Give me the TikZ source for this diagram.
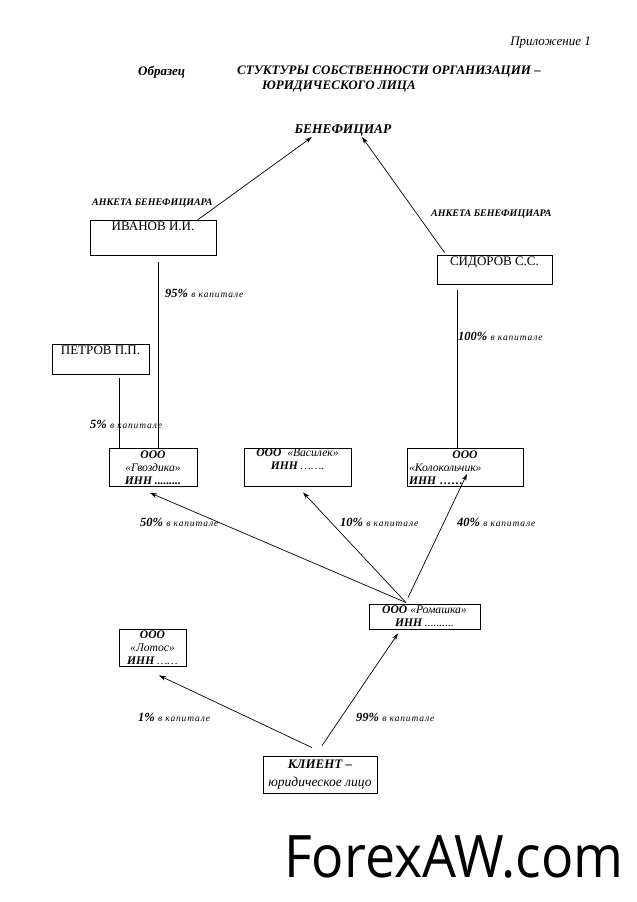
\documentclass[tikz,border=0pt]{standalone}
\usepackage{fontspec}
\usepackage{graphicx}
\setmainfont{Liberation Serif}
\newfontfamily\wmfont{Open Sans}
\newfontfamily\kapfont[LetterSpace=9]{Liberation Serif}
\usetikzlibrary{arrows.meta}
\begin{document}
\begin{tikzpicture}[x=1pt,y=-1pt,
  box/.style={draw,line width=0.8pt,inner sep=0pt},
  tbox/.style={box,align=center,font=\bfseries\itshape\fontsize{11.6}{12.8}\selectfont},
  plain/.style={inner sep=0pt},
  conn/.style={line width=0.7pt},
  arr/.style={conn,-{Stealth[length=7pt,width=4.5pt]}},
  pct/.style={inner sep=0pt,anchor=west,font=\bfseries\itshape\fontsize{12.5}{14}\selectfont},
  anketa/.style={inner sep=0pt,anchor=west,font=\bfseries\itshape\fontsize{10}{12}\selectfont},
  pname/.style={inner sep=0pt,anchor=north,font=\fontsize{13}{15}\selectfont}]
\useasboundingbox (0,0) rectangle (637,902);
\newcommand{\kap}{{\kapfont\mdseries\itshape\fontsize{9.5}{11}\selectfont\ в капитале}}
% header
\node[plain,anchor=east,font=\itshape\fontsize{13}{15}\selectfont] (pril) at (591,43) {Приложение 1};
\node[plain,anchor=west,font=\bfseries\itshape\fontsize{13}{15}\selectfont] (obr) at (138,72) {Образец};
\node[plain,anchor=west,font=\bfseries\itshape\fontsize{13}{15}\selectfont] (tit1) at (237,72) {СТУКТУРЫ СОБСТВЕННОСТИ ОРГАНИЗАЦИИ –};
\node[plain,anchor=west,font=\bfseries\itshape\fontsize{13}{15}\selectfont] (tit2) at (262,87) {ЮРИДИЧЕСКОГО ЛИЦА};
% beneficiary
\node[plain,font=\bfseries\itshape\fontsize{13.4}{15}\selectfont] (benef) at (343,131) {БЕНЕФИЦИАР};
% persons
\node[box,minimum width=126,minimum height=35,
  label={[pname,yshift=-2.5pt]north:ИВАНОВ И.И.}] (ivanov) at (153,237.5) {};
\node[box,minimum width=115,minimum height=29,
  label={[pname,yshift=-2.5pt]north:СИДОРОВ С.С.}] (sidorov) at (494.5,269.5) {};
\node[box,minimum width=97,minimum height=30,
  label={[pname,yshift=-2.5pt]north:ПЕТРОВ П.П.}] (petrov) at (100.5,359) {};
% companies
\node[tbox,minimum width=88,minimum height=38] (gvoz) at (153,467.5)
  {ООО\\{\mdseries«Гвоздика»}\\ИНН .........};
\node[tbox,minimum width=107,minimum height=38] (vasil) at (297.5,467)
  {ООО\ \ {\mdseries«Василек»}\\ИНН {\mdseries …….}\\[-1pt]\strut};
\node[tbox,minimum width=116,minimum height=38,align=left,text width=112] (kolok) at (465,467.5)
  {\hfill ООО\hfill\null\\{\mdseries«Колокольчик»}\\ИНН ……};
\node[tbox,minimum width=111,minimum height=25] (romash) at (424.5,616.5)
  {ООО {\mdseries«Ромашка»}\\ИНН {\mdseries ..........}};
\node[tbox,minimum width=67,minimum height=37] (lotos) at (152.5,647.5)
  {ООО\\{\mdseries«Лотос»}\\ИНН {\mdseries ……}};
\node[tbox,minimum width=114,minimum height=37,font=\bfseries\itshape\fontsize{13}{18}\selectfont] (client) at (320,774.5)
  {КЛИЕНТ –\\{\mdseries\fontsize{13.5}{18}\selectfont юридическое лицо}};
% labels
\node[anketa] (ank1) at (92,203) {АНКЕТА БЕНЕФИЦИАРА};
\node[anketa] (ank2) at (431,214) {АНКЕТА БЕНЕФИЦИАРА};
\node[pct] (p95) at (165,293) {95\%\kap};
\node[pct] (p100) at (458,336) {100\%\kap};
\node[pct] (p5) at (90,424) {5\%\kap};
\node[pct] (p50) at (140,522) {50\%\kap};
\node[pct] (p10) at (340,522) {10\%\kap};
\node[pct] (p40) at (457,522) {40\%\kap};
\node[pct] (p1) at (138,717) {1\%\kap};
\node[pct] (p99) at (356,717) {99\%\kap};
% connectors
\draw[arr] ([xshift=45pt]ivanov.north) -- ([xshift=-31pt]benef.south);
\draw[arr] ([xshift=8pt,yshift=2pt]sidorov.north west) -- ([xshift=19pt]benef.south);
\draw[conn] ([xshift=5pt,yshift=-7pt]ivanov.south) -- ([xshift=5pt]gvoz.north);
\draw[conn] ([xshift=18.5pt,yshift=-4pt]petrov.south) -- ([xshift=-34pt]gvoz.north);
\draw[conn] ([xshift=-37.5pt,yshift=-6pt]sidorov.south) -- ([xshift=-8pt]kolok.north);
\draw[arr] ([xshift=-18.5pt,yshift=1pt]romash.north) -- ([yshift=-6pt,xshift=-3pt]gvoz.south);
\draw[arr] ([xshift=-18.5pt,yshift=1pt]romash.north) -- ([yshift=-6pt,xshift=5.5pt]vasil.south);
\draw[arr] ([xshift=-16.5pt,yshift=6pt]romash.north) -- ([yshift=13pt,xshift=2pt]kolok.south);
\draw[arr] ([xshift=-8pt,yshift=8pt]client.north) -- ([xshift=6.5pt,yshift=-9pt]lotos.south);
\draw[arr] ([xshift=2pt,yshift=10pt]client.north) -- ([xshift=-26.5pt,yshift=-4pt]romash.south);
% watermark
\node[plain,anchor=base west] (wm) at (284,877) {\resizebox{339pt}{42pt}{\wmfont ForexAW.com}};
\end{tikzpicture}
\end{document}
